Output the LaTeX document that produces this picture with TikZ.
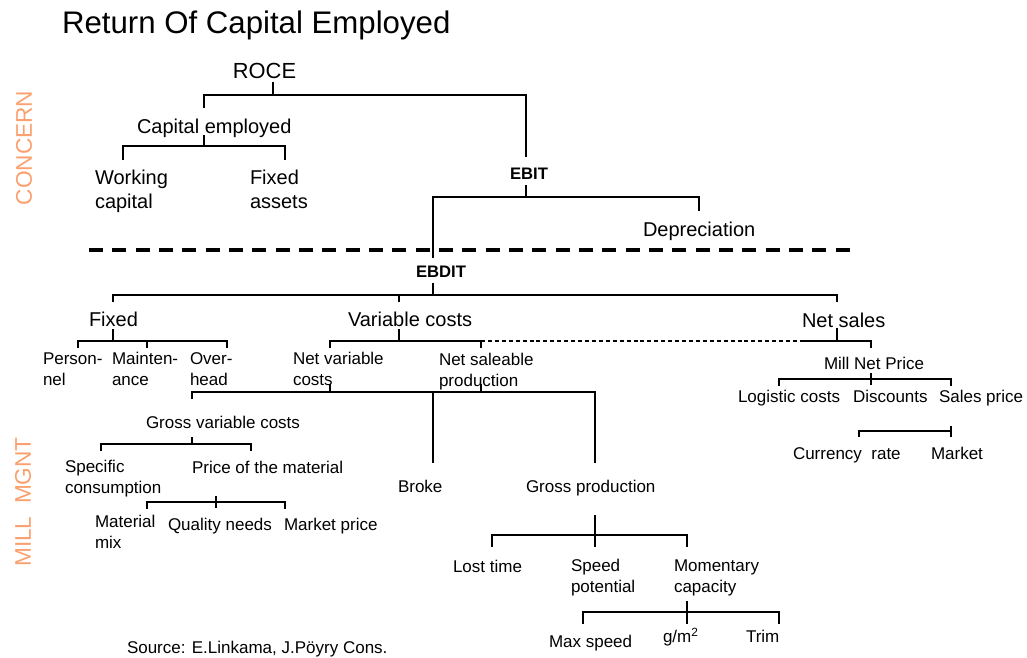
\documentclass[tikz,border=0pt]{standalone}
\usepackage{fontspec}
\setmainfont{Liberation Sans}
\definecolor{sideorange}{RGB}{250,160,110}
\begin{document}
\begin{tikzpicture}[x=0.75pt,y=-0.75pt,
  every node/.style={inner sep=0pt,outer sep=0pt,anchor=base west,align=left},
  small/.style={font=\fontsize{12.75}{15.4}\selectfont},
  big/.style={font=\fontsize{15}{17.3}\selectfont},
  boldlbl/.style={font=\fontsize{12.5}{15}\selectfont\bfseries},
  titlelbl/.style={font=\fontsize{23.4}{28}\selectfont},
  rocelbl/.style={font=\fontsize{16.4}{19}\selectfont},
  sidelbl/.style={font=\fontsize{17}{20}\selectfont,text=sideorange,rotate=90,anchor=center},
  conn/.style={line width=0.8pt},
  bigdash/.style={line width=3pt,dash pattern=on 10.5pt off 7pt},
  thindash/.style={line width=0.8pt,dash pattern=on 3pt off 2.2pt}]
\useasboundingbox (0,0) rectangle (1027,657);

% ---------- texts (multi-line nodes are placed at the baseline of their last line) ----------
\node[titlelbl] (title) at (62,33) {Return Of Capital Employed};
\node[sidelbl] (concern) at (24,148) {CONCERN};
\node[sidelbl] (millmgnt) at (23,502) {MILL\ \ MGNT};
\node[rocelbl,anchor=base] (roce) at (264.5,78) {ROCE};
\node[big] (capemp) at (137,133) {Capital employed};
\node[big] (working) at (95,208) {Working\\capital};
\node[big] (fixedassets) at (250,208) {Fixed\\assets};
\node[boldlbl] (ebit) at (510,179) {EBIT};
\node[big] (depr) at (643,236) {Depreciation};
\node[boldlbl] (ebdit) at (416,277) {EBDIT};
\node[big] (fixed) at (89,326) {Fixed};
\node[big] (varcosts) at (348,326) {Variable costs};
\node[big] (netsales) at (802,327) {Net sales};
\node[small] (personnel) at (43,385) {Person-\\nel};
\node[small] (mainten) at (112,385) {Mainten-\\ance};
\node[small] (overhead) at (190,385) {Over-\\head};
\node[small] (netvar) at (293,385) {Net variable\\costs};
\node[small] (netsale) at (439,386) {Net saleable\\production};
\node[small] (millnet) at (824,369) {Mill Net Price};
\node[small] (logistic) at (738,402) {Logistic costs};
\node[small] (discounts) at (853,402) {Discounts};
\node[small] (salesprice) at (939,402) {Sales price};
\node[small] (currency) at (793,459) {Currency\ \ rate};
\node[small] (market) at (931,459) {Market};
\node[small] (grossvar) at (146,428) {Gross variable costs};
\node[small] (specific) at (65,493) {Specific\\consumption};
\node[small] (priceofmat) at (192,473) {Price of the material};
\node[small] (matmix) at (95,548) {Material\\mix};
\node[small] (quality) at (168,530) {Quality needs};
\node[small] (marketprice) at (284,530) {Market price};
\node[small] (broke) at (398,492) {Broke};
\node[small] (grossprod) at (526,492) {Gross production};
\node[small] (losttime) at (453,572) {Lost time};
\node[small] (speed) at (571,592) {Speed\\potential};
\node[small] (momentary) at (674,592) {Momentary\\capacity};
\node[small] (maxspeed) at (549,647) {Max speed};
\node[small] (gm) at (663,642) {g/m\textsuperscript{2}};
\node[small] (trim) at (746,642) {Trim};
\node[small] (source) at (127,653) {Source: E.Linkama, J.Pöyry Cons.};

% ---------- junction coordinates ----------
% ROCE
\coordinate (rA) at (273,82);  \coordinate (rB) at (273,95);
\coordinate (rL) at (204,95);  \coordinate (rLd) at (204,108);
\coordinate (rR) at (526,95);  \coordinate (rRd) at (526,157);
% Capital employed
\coordinate (cA) at (204,135); \coordinate (cB) at (204,146);
\coordinate (cL) at (123,146); \coordinate (cLd) at (123,160);
\coordinate (cR) at (285,146); \coordinate (cRd) at (285,160);
% EBIT
\coordinate (eA) at (526,185); \coordinate (eB) at (526,197);
\coordinate (eL) at (433,197); \coordinate (eLd) at (433,258);
\coordinate (eR) at (699,197); \coordinate (eRd) at (699,211);
% dashed separator
\coordinate (dL) at (89,250);  \coordinate (dR) at (850,250);
% EBDIT
\coordinate (bA) at (433,283); \coordinate (bB) at (433,295);
\coordinate (bL) at (113,295); \coordinate (bLd) at (113,302);
\coordinate (bM) at (399,295); \coordinate (bMd) at (399,302);
\coordinate (bR) at (837,295); \coordinate (bRd) at (837,302);
% Fixed
\coordinate (fA) at (113,329); \coordinate (fB) at (113,341);
\coordinate (fL) at (78,341);  \coordinate (fLd) at (78,348);
\coordinate (fM) at (147,341); \coordinate (fMd) at (147,348);
\coordinate (fR) at (227,341); \coordinate (fRd) at (227,348);
% Variable costs
\coordinate (vA) at (399,329); \coordinate (vB) at (399,341);
\coordinate (vL) at (330,341); \coordinate (vLd) at (330,348);
\coordinate (vR) at (481,341); \coordinate (vRd) at (481,348);
% Net sales
\coordinate (nsL) at (802,341);
\coordinate (nA) at (837,328); \coordinate (nB) at (837,341);
\coordinate (nR) at (871,341); \coordinate (nRd) at (871,348);
% Mill Net Price
\coordinate (mA) at (871,373); \coordinate (mB) at (871,385);
\coordinate (mL) at (779,379); \coordinate (mLd) at (779,386);
\coordinate (mR) at (951,379); \coordinate (mRd) at (951,386);
% Sales price
\coordinate (sA) at (951,426); \coordinate (sB) at (951,437);
\coordinate (sL) at (859,431); \coordinate (sLd) at (859,437);
\coordinate (sH) at (951,431);
% Net variable / Net saleable
\coordinate (gA) at (330,384); \coordinate (gB) at (330,392);
\coordinate (gC) at (481,384); \coordinate (gD) at (481,392);
\coordinate (gL) at (192,392); \coordinate (gLd) at (192,399);
\coordinate (gM) at (433,392); \coordinate (gMd) at (433,463);
\coordinate (gR) at (595,392); \coordinate (gRd) at (595,463);
% Gross variable costs
\coordinate (hA) at (192,437); \coordinate (hB) at (192,444);
\coordinate (hL) at (101,444); \coordinate (hLd) at (101,451);
\coordinate (hR) at (251,444); \coordinate (hRd) at (251,451);
% Price of the material
\coordinate (pA) at (216,496); \coordinate (pB) at (216,508);
\coordinate (pL) at (147,502); \coordinate (pLd) at (147,509);
\coordinate (pR) at (285,502); \coordinate (pRd) at (285,509);
% Gross production
\coordinate (qA) at (595,515); \coordinate (qB) at (595,547);
\coordinate (qL) at (492,535); \coordinate (qLd) at (492,547);
\coordinate (qR) at (687,535); \coordinate (qRd) at (687,547);
% Momentary capacity
\coordinate (tA) at (687,601); \coordinate (tB) at (687,624);
\coordinate (tL) at (583,612); \coordinate (tLd) at (583,624);
\coordinate (tR) at (779,612); \coordinate (tRd) at (779,624);

% ---------- connectors ----------
\draw[conn] (rA) -- (rB);
\draw[conn] (rLd) -- (rL) -- (rR) -- (rRd);
\draw[conn] (cA) -- (cB);
\draw[conn] (cLd) -- (cL) -- (cR) -- (cRd);
\draw[conn] (eA) -- (eB);
\draw[conn] (eLd) -- (eL) -- (eR) -- (eRd);
\draw[bigdash] (dL) -- (dR);
\draw[conn] (bA) -- (bB);
\draw[conn] (bLd) -- (bL) -- (bR) -- (bRd);
\draw[conn] (bM) -- (bMd);
\draw[conn] (fA) -- (fB);
\draw[conn] (fLd) -- (fL) -- (fR) -- (fRd);
\draw[conn] (fM) -- (fMd);
\draw[conn] (vA) -- (vB);
\draw[conn] (vLd) -- (vL) -- (vR) -- (vRd);
\draw[thindash] (vR) -- (nsL);
\draw[conn] (nsL) -- (nR) -- (nRd);
\draw[conn] (nA) -- (nB);
\draw[conn] (mA) -- (mB);
\draw[conn] (mLd) -- (mL) -- (mR) -- (mRd);
\draw[conn] (sA) -- (sB);
\draw[conn] (sLd) -- (sL) -- (sH);
\draw[conn] (gA) -- (gB);
\draw[conn] (gC) -- (gD);
\draw[conn] (gLd) -- (gL) -- (gR) -- (gRd);
\draw[conn] (gM) -- (gMd);
\draw[conn] (hA) -- (hB);
\draw[conn] (hLd) -- (hL) -- (hR) -- (hRd);
\draw[conn] (pA) -- (pB);
\draw[conn] (pLd) -- (pL) -- (pR) -- (pRd);
\draw[conn] (qA) -- (qB);
\draw[conn] (qLd) -- (qL) -- (qR) -- (qRd);
\draw[conn] (tA) -- (tB);
\draw[conn] (tLd) -- (tL) -- (tR) -- (tRd);
\end{tikzpicture}
\end{document}
